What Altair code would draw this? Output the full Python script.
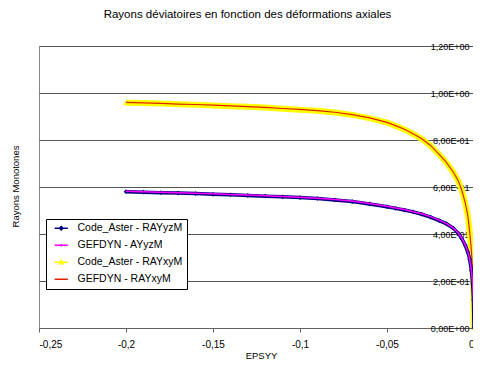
import altair as alt
import pandas as pd

# ---- data ----
eps = [-0.200, -0.190, -0.180, -0.170, -0.160, -0.150, -0.140, -0.130, -0.120, -0.110,
       -0.100, -0.090, -0.080, -0.070, -0.060, -0.050, -0.045, -0.040, -0.035, -0.030,
       -0.025, -0.020, -0.016, -0.012, -0.009, -0.007, -0.005, -0.0035, -0.0025, -0.0015,
       -0.0008, -0.0003, 0.0]

aster_yz = [0.580, 0.578, 0.576, 0.574, 0.572, 0.569, 0.567, 0.564, 0.561, 0.558,
            0.555, 0.551, 0.545, 0.538, 0.528, 0.516, 0.509, 0.502, 0.494, 0.484,
            0.472, 0.457, 0.444, 0.425, 0.403, 0.380, 0.352, 0.322, 0.292, 0.245,
            0.190, 0.120, 0.0]
gefdyn_yz = [0.582, 0.580, 0.578, 0.576, 0.573, 0.571, 0.568, 0.566, 0.563, 0.560,
             0.556, 0.552, 0.547, 0.540, 0.530, 0.518, 0.511, 0.504, 0.495, 0.486,
             0.474, 0.459, 0.445, 0.426, 0.404, 0.382, 0.354, 0.324, 0.294, 0.247,
             0.192, 0.122, 0.0]
aster_xy = [0.959, 0.957, 0.955, 0.952, 0.950, 0.947, 0.944, 0.941, 0.938, 0.933,
            0.929, 0.924, 0.917, 0.907, 0.893, 0.874, 0.860, 0.845, 0.826, 0.804,
            0.776, 0.738, 0.705, 0.664, 0.625, 0.585, 0.530, 0.475, 0.410, 0.330,
            0.240, 0.150, 0.0]
gefdyn_xy = [0.960, 0.958, 0.956, 0.953, 0.951, 0.948, 0.945, 0.942, 0.939, 0.934,
             0.930, 0.925, 0.918, 0.908, 0.894, 0.875, 0.861, 0.846, 0.827, 0.805,
             0.777, 0.739, 0.706, 0.665, 0.626, 0.586, 0.531, 0.476, 0.411, 0.331,
             0.241, 0.151, 0.0]

series = ["Code_Aster - RAYyzM", "GEFDYN - AYyzM", "Code_Aster - RAYxyM", "GEFDYN - RAYxyM"]
colors = ["#000080", "#FF00FF", "#FFFF00", "#E02000"]

x_ticks = [-0.25, -0.2, -0.15, -0.1, -0.05, 0]
x_labels = ["-0,25", "-0,2", "-0,15", "-0,1", "-0,05", "0"]
y_ticks = [0, 0.2, 0.4, 0.6, 0.8, 1.0, 1.2]
y_labels = ["0,00E+00", "2,00E-01", "4,00E-01", "6,00E-01", "8,00E-01", "1,00E+00", "1,20E+00"]

rows = []
for name, vals in zip(series, [aster_yz, gefdyn_yz, aster_xy, gefdyn_xy]):
    for x, y in zip(eps, vals):
        rows.append({"serie": name, "EPSYY": x, "ray": y})
df = pd.DataFrame(rows)

FONT = "Liberation Sans"
W, H = 435, 282

x_label_expr = "[" + ",".join("'%s'" % s for s in x_labels) + "][round((datum.value + 0.25) * 20)]"
y_label_expr = "[" + ",".join("'%s'" % s for s in y_labels) + "][round(datum.value * 5)]"

legend_paths = [
    "M-3.3,0H3.3M-0.9,0L0,-0.9L0.9,0L0,0.9Z",
    "M-3.3,0H3.3M0,-0.6V0.6",
    "M-3.3,0H3.3M-0.9,0.8L0,-0.9L0.9,0.8Z",
    "M-3.3,0H3.3",
]

color_scale = alt.Scale(domain=series, range=colors)

x_enc = alt.X("EPSYY:Q", scale=alt.Scale(domain=[-0.25, 0], nice=False),
              axis=alt.Axis(values=x_ticks, labelExpr=x_label_expr, grid=False,
                            domainColor="#606060", tickColor="#606060", tickSize=4,
                            labelPadding=7, labelFont=FONT, labelFontSize=10, labelColor="#000",
                            title="EPSYY", titleFont=FONT, titleFontSize=9.5,
                            titleFontWeight="normal", titleColor="#000",
                            titleX=222, titleY=27, titleAlign="center", titleBaseline="middle"))
y_enc = alt.Y("ray:Q", scale=alt.Scale(domain=[0, 1.2], nice=False),
              axis=alt.Axis(orient="left", offset=-W, values=y_ticks, labelExpr=y_label_expr,
                            grid=True, gridColor="#555555", gridWidth=1, domain=False,
                            tickSize=4, tickColor="#555555", labelPadding=1,
                            labelFont=FONT, labelFontSize=9, labelColor="#000",
                            title="Rayons Monotones", titleFont=FONT, titleFontSize=9.5,
                            titleFontWeight="normal", titleColor="#000",
                            titleX=-(W + 24), titleY=140, titleAngle=-90,
                            titleAlign="center", titleBaseline="middle"))

legend = alt.Legend(
    title=None, orient="none", legendX=7, legendY=173,
    fillColor="#FFFFFF", strokeColor="#000000", padding=4,
    labelFont=FONT, labelFontSize=10.5, labelColor="#000",
    symbolSize=16, symbolOffset=6, labelOffset=11, rowPadding=6,
    symbolStrokeWidth=1.5, symbolOpacity=1,
)

base = alt.Chart(df)

def only(name):
    return alt.datum.serie == name

col_plain = alt.Color("serie:N", scale=color_scale, sort=series)

# legend-only layer (no rows drawn)
legend_layer = base.transform_filter("false").mark_point(filled=True, opacity=1).encode(
    x=x_enc, y=y_enc,
    color=alt.Color("serie:N", scale=color_scale, legend=legend, sort=series),
    stroke=alt.Stroke("serie:N", scale=alt.Scale(domain=series, range=colors), legend=legend, sort=series),
    shape=alt.Shape("serie:N", scale=alt.Scale(domain=series, range=legend_paths), legend=legend, sort=series),
)

yellow_band = base.transform_filter(only(series[2])).mark_line(strokeWidth=6).encode(
    x="EPSYY:Q", y="ray:Q", color=col_plain)
yellow_pts = base.transform_filter(only(series[2])).mark_point(
    shape="triangle-up", filled=True, size=30, opacity=1).encode(x="EPSYY:Q", y="ray:Q", color=col_plain)
red_line = base.transform_filter(only(series[3])).mark_line(strokeWidth=1.2).encode(
    x="EPSYY:Q", y="ray:Q", color=col_plain)
navy_band = base.transform_filter(only(series[0])).mark_line(strokeWidth=3.5).encode(
    x="EPSYY:Q", y="ray:Q", color=col_plain)
navy_pts = base.transform_filter(only(series[0])).mark_point(
    shape="diamond", filled=True, size=22, opacity=1).encode(x="EPSYY:Q", y="ray:Q", color=col_plain)
magenta_line = base.transform_filter(only(series[1])).mark_line(strokeWidth=1.5).encode(
    x="EPSYY:Q", y="ray:Q", color=col_plain)

chart = alt.layer(legend_layer, yellow_band, yellow_pts, red_line, navy_band, navy_pts,
                  magenta_line).properties(
    width=W, height=H,
    autosize=alt.AutoSizeParams(type="none"),
    padding={"left": 31, "top": 38, "right": -1, "bottom": 32},
    title=alt.TitleParams("Rayons déviatoires en fonction des déformations axiales",
                          font=FONT, fontSize=11.5, fontWeight="normal", color="#000",
                          anchor="middle", dx=-9, offset=16, baseline="middle"),
    background="#FFFFFF",
).configure_view(stroke="#888888", strokeWidth=1)

chart.save("out.html", embed_options={"renderer": "svg", "actions": False})
